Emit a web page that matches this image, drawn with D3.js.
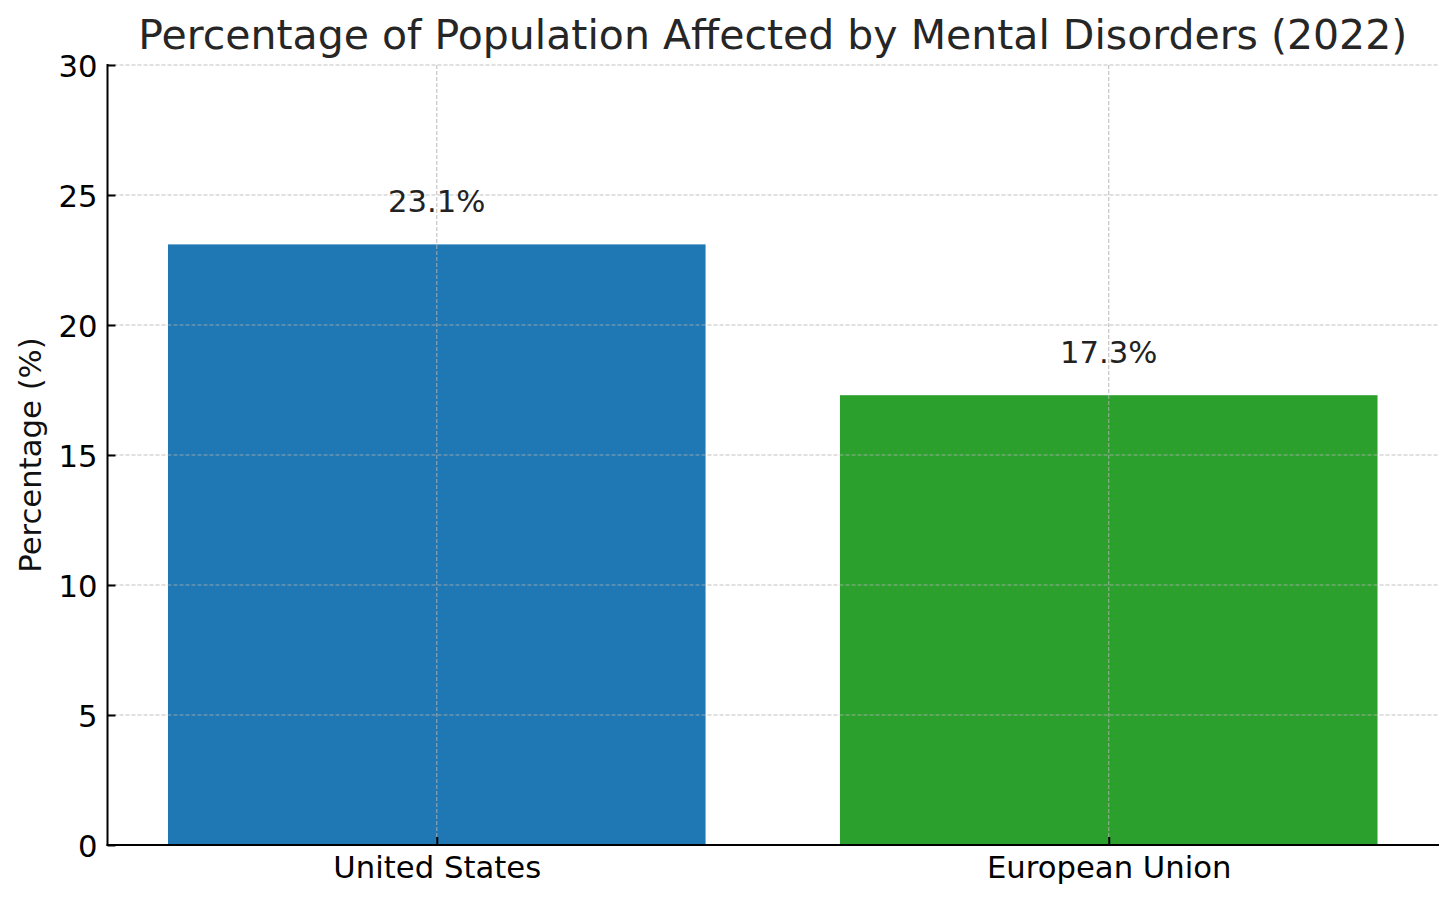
<!DOCTYPE html>
<html>
<head>
<meta charset="utf-8">
<script src="https://cdn.jsdelivr.net/npm/d3@7"></script>
<style>
  html, body { margin: 0; padding: 0; background: #fff; }
  svg { display: block; font-family: "DejaVu Sans", sans-serif; }
</style>
</head>
<body>
<svg id="chart" width="1456" height="903"></svg>
<script>
// ---- data ----
const categories = ["United States", "European Union"];
const values = [23.1, 17.3];
const barColors = ["#1f77b4", "#2ca02c"];
const yTicks = [0, 5, 10, 15, 20, 25, 30];
const valueLabels = ["23.1%", "17.3%"];
const titleText = "Percentage of Population Affected by Mental Disorders (2022)";
const yLabelText = "Percentage (%)";

(function () {
// ---- layout ----
const W = 1456, H = 903;
const mLeft = 107.5, mRight = 1438, mTop = 65, mBottom = 845;
const barWidth = 0.8;
const fs = 30.7;

const svg = d3.select("#chart");
svg.append("rect").attr("width", W).attr("height", H).attr("fill", "#fff");

const x = d3.scaleLinear().domain([-0.49, categories.length - 1 + 0.49]).range([mLeft, mRight]);
const y = d3.scaleLinear().domain([0, 30]).range([mBottom, mTop]);

// bars
svg.append("g").selectAll("rect").data(values).join("rect")
  .attr("x", (d, i) => x(i - barWidth / 2))
  .attr("width", (d, i) => x(i + barWidth / 2) - x(i - barWidth / 2))
  .attr("y", d => y(d))
  .attr("height", d => y(0) - y(d))
  .attr("fill", (d, i) => barColors[i]);

// grid (drawn above bars)
const grid = svg.append("g")
  .attr("stroke", "#b0b0b0").attr("stroke-opacity", 0.8)
  .attr("stroke-width", 1.1).attr("stroke-dasharray", "4,2");
grid.selectAll("line.h").data(yTicks).join("line").attr("class", "h")
  .attr("x1", mLeft).attr("x2", mRight)
  .attr("y1", d => y(d)).attr("y2", d => y(d));
grid.selectAll("line.v").data(categories).join("line").attr("class", "v")
  .attr("x1", (d, i) => x(i)).attr("x2", (d, i) => x(i))
  .attr("y1", mTop).attr("y2", mBottom);

// y axis (ticks inward)
const yAxis = d3.axisLeft(y).tickValues(yTicks).tickSize(-8).tickPadding(10);
const gy = svg.append("g").attr("transform", `translate(${mLeft},0)`).call(yAxis);
gy.select(".domain").remove();
gy.selectAll(".tick line").attr("stroke", "#000").attr("stroke-width", 2);
gy.selectAll(".tick text").attr("font-size", fs).attr("fill", "#000")
  .attr("font-family", "DejaVu Sans").attr("dy", "0.36em");
svg.append("line").attr("x1", mLeft).attr("x2", mLeft).attr("y1", mTop - 1).attr("y2", mBottom + 1)
  .attr("stroke", "#000").attr("stroke-width", 2);

// x axis (ticks inward)
const xAxis = d3.axisBottom(x).tickValues(d3.range(categories.length))
  .tickFormat(i => categories[i]).tickSize(-8).tickPadding(11);
const gx = svg.append("g").attr("transform", `translate(0,${mBottom})`).call(xAxis);
gx.select(".domain").remove();
gx.selectAll(".tick line").attr("stroke", "#000").attr("stroke-width", 2);
gx.selectAll(".tick text").attr("font-size", fs).attr("fill", "#000")
  .attr("font-family", "DejaVu Sans").attr("dy", "0.71em");
svg.append("line").attr("x1", mLeft - 1).attr("x2", mRight + 1).attr("y1", mBottom).attr("y2", mBottom)
  .attr("stroke", "#000").attr("stroke-width", 2);

// value labels
svg.append("g").selectAll("text").data(values).join("text")
  .attr("x", (d, i) => x(i))
  .attr("y", d => y(d) - 32.5)
  .attr("text-anchor", "middle")
  .attr("font-size", fs).attr("fill", "#222")
  .text((d, i) => valueLabels[i]);

// title
svg.append("text").attr("x", (mLeft + mRight) / 2).attr("y", 49)
  .attr("text-anchor", "middle").attr("font-size", 41).attr("fill", "#262626")
  .text(titleText);

// y label
svg.append("text")
  .attr("transform", `translate(41,${(mTop + mBottom) / 2}) rotate(-90)`)
  .attr("text-anchor", "middle").attr("font-size", fs).attr("fill", "#111")
  .text(yLabelText);
})();
</script>
</body>
</html>
